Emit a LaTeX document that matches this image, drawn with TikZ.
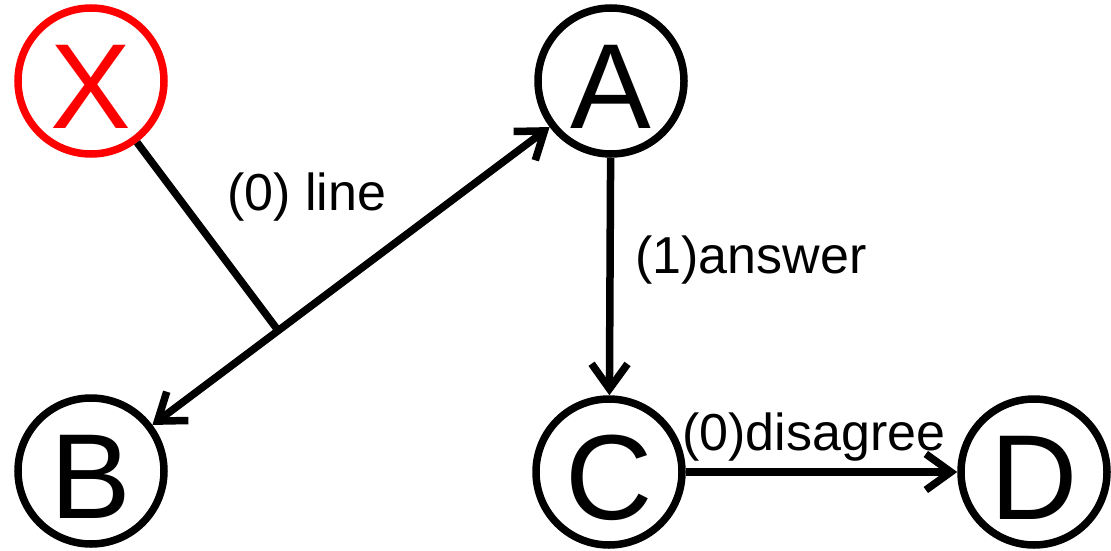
\documentclass[tikz,border=0pt]{standalone}
\usepackage{fontspec}
\setmainfont{Liberation Sans}
\usetikzlibrary{arrows.meta,calc}
\begin{document}
\begin{tikzpicture}[x=1pt,y=-1pt,
  state/.style={circle,draw=black,line width=7.5pt,minimum size=146pt,inner sep=0pt,
    font=\fontsize{121}{121}\selectfont,text height=94pt,text depth=0pt},
  redstate/.style={state,draw=red,text=red},
  edge/.style={line width=7.5pt,draw=black},
  barb/.tip={Straight Barb[length=25pt,width=36pt]},
  tip/.style={-barb},
  lbl/.style={inner sep=0pt,anchor=base west,font=\fontsize{52}{52}\selectfont}]
\useasboundingbox (0,0) rectangle (1111,551);
\node[redstate] (X) at (91,81) {X};
\node[state] (A) at (611,81) {A};
\node[state] (B) at (91,471) {B};
\node[state] (C) at (609,472) {C};
\node[state] (D) at (1034,472) {D};
\coordinate (F) at ($(B)!(X)!(A)$);
\draw[edge,barb-barb] (A) -- (B);
\draw[edge] (X) -- (F);
\draw[edge,tip] (A) -- (C);
\draw[edge,tip] (C) -- (D);
\node[lbl] (l1) at (227,210) {(0) line};
\node[lbl] (l2) at (635,273) {(1)answer};
\node[lbl] (l3) at (682,450) {(0)disagree};
\end{tikzpicture}
\end{document}
